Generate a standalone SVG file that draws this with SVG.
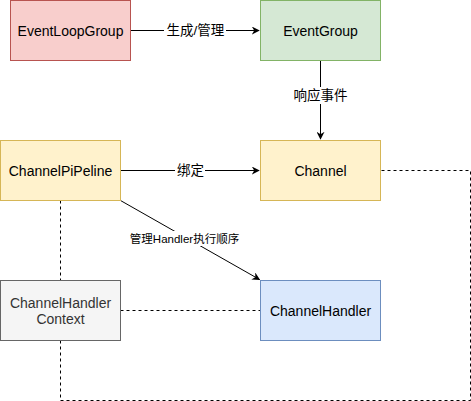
<svg xmlns="http://www.w3.org/2000/svg" width="471" height="401" viewBox="0 0 471 401">
<defs>
<style>
.n{font-family:"Liberation Sans","Noto Sans CJK SC",sans-serif;font-size:14px;fill:#000;text-anchor:middle;dominant-baseline:central}
.l{font-family:"Liberation Sans","Noto Sans CJK SC",sans-serif;font-size:13.5px;fill:#000;text-anchor:middle;dominant-baseline:central}
.s{font-size:11.5px}
.g{fill:#333333}
.e{stroke:#000;stroke-width:1;fill:none}
.d{stroke:#000;stroke-width:1;fill:none;stroke-dasharray:3 3}
</style>
<marker id="a" viewBox="0 0 10 10" refX="9" refY="5" markerWidth="8" markerHeight="8" markerUnits="userSpaceOnUse" orient="auto">
<path d="M0,0 L10,5 L0,10 L3,5 Z" fill="#000"/>
</marker>
</defs>
<rect width="471" height="401" fill="#fff"/>
<g id="connectors">
<path class="e" d="M130.5,30.5 H259" marker-end="url(#a)"/>
<path class="e" d="M320.5,60.5 V139" marker-end="url(#a)"/>
<path class="e" d="M120.5,170.5 H259" marker-end="url(#a)"/>
<path class="e" d="M120.5,200.5 L259.5,279.5" marker-end="url(#a)"/>
<path class="d" d="M60.5,200.5 V280"/>
<path class="d" d="M60.5,340.5 V400.5 H470.5 V170.5 H380.5"/>
<path class="d" d="M120.5,310.5 H260"/>
<rect x="164" y="22" width="62" height="17" fill="#fff"/>
<text class="l" x="195.5" y="30.5">生成/管理</text>
<rect x="292" y="87" width="58" height="17" fill="#fff"/>
<text class="l" x="320.5" y="95.5">响应事件</text>
<rect x="175" y="162" width="30" height="17" fill="#fff"/>
<text class="l" x="190.5" y="170.5">绑定</text>
<rect x="131" y="231" width="107" height="15" fill="#fff"/>
<text class="l s" x="184.5" y="238.5">管理Handler执行顺序</text>
</g>
<g id="EventLoopGroup">
<rect x="10.5" y="0.5" width="120" height="60" fill="#f8cecc" stroke="#b85450"/>
<text class="n" x="70.5" y="30.5">EventLoopGroup</text>
</g>
<g id="EventGroup">
<rect x="260.5" y="0.5" width="120" height="60" fill="#d5e8d4" stroke="#82b366"/>
<text class="n" x="320.5" y="30.5">EventGroup</text>
</g>
<g id="ChannelPiPeline">
<rect x="0.5" y="140.5" width="120" height="60" fill="#fff2cc" stroke="#d6b656"/>
<text class="n" x="60.5" y="170.5">ChannelPiPeline</text>
</g>
<g id="Channel">
<rect x="260.5" y="140.5" width="120" height="60" fill="#fff2cc" stroke="#d6b656"/>
<text class="n" x="320.5" y="170.5">Channel</text>
</g>
<g id="ChannelHandlerContext">
<rect x="0.5" y="280.5" width="120" height="60" fill="#f5f5f5" stroke="#666666"/>
<text class="n g" x="60.5" y="302.5">ChannelHandler</text>
<text class="n g" x="60.5" y="318.5">Context</text>
</g>
<g id="ChannelHandler">
<rect x="260.5" y="280.5" width="120" height="60" fill="#dae8fc" stroke="#6c8ebf"/>
<text class="n" x="320.5" y="310.5">ChannelHandler</text>
</g>
</svg>
